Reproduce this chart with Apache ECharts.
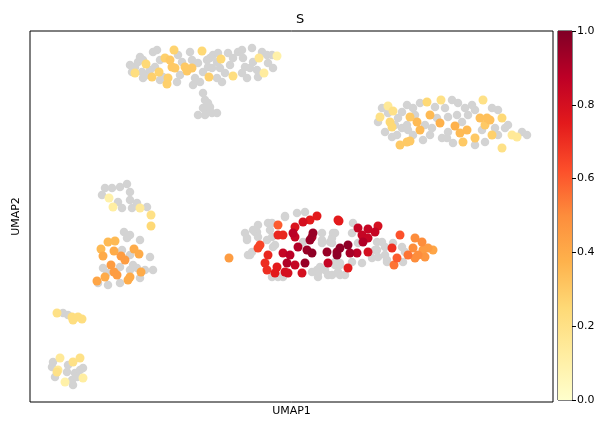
<!DOCTYPE html>
<html><head><meta charset="utf-8">
<script src="https://cdn.jsdelivr.net/npm/echarts@6/dist/echarts.min.js"></script>
<style>html,body{margin:0;padding:0;background:#fff}#c{width:612px;height:430px}</style>
</head><body><div id="c"></div>
<script>
// UMAP embedding coordinates (arbitrary units), grey = cells without score
const grayTop = [[130,65],[135,67],[132,72],[138,62],[140,57],[143,60],[142,72],[147,75],[143,78],[153,52],[157,50],[160,60],[155,67],[150,70],[160,80],[163,77],[178,55],[182,62],[180,75],[177,82],[190,52],[192,60],[195,78],[193,85],[198,63],[203,72],[200,82],[207,60],[208,67],[210,58],[212,68],[213,55],[217,62],[218,53],[220,68],[217,78],[222,82],[225,73],[228,53],[230,65],[233,58],[238,52],[242,50],[243,58],[245,67],[242,73],[247,78],[250,68],[252,48],[253,62],[257,70],[258,77],[262,52],[267,55],[268,63],[273,68],[272,55],[203,93],[205,100],[208,103],[210,107],[207,110],[203,108],[212,113],[217,113],[198,115],[205,115]];
const grayRight = [[382,108],[388,113],[398,118],[402,112],[407,105],[413,108],[420,103],[415,115],[402,128],[408,130],[392,137],[397,135],[413,135],[423,140],[432,128],[435,107],[445,108],[452,100],[458,103],[448,117],[457,115],[465,108],[468,115],[475,110],[472,105],[448,132],[453,143],[447,138],[475,145],[485,142],[492,108],[498,110],[495,128],[505,128],[508,125],[498,135],[522,132],[527,135],[482,130],[442,138],[425,125],[407,125],[385,132],[378,122],[437,118],[462,122],[430,135],[395,125]];
const grayCenter = [[258,225],[268,223],[272,223],[285,216],[285,217],[297,213],[305,212],[255,232],[257,232],[253,230],[247,240],[247,238],[245,233],[252,252],[248,255],[258,237],[250,255],[267,240],[270,230],[272,237],[273,247],[275,245],[303,242],[322,233],[322,240],[330,242],[332,238],[333,233],[322,243],[332,243],[335,262],[335,265],[340,265],[340,263],[338,272],[345,275],[325,270],[320,267],[317,270],[318,273],[318,277],[312,272],[328,275],[332,275],[340,275],[278,277],[283,277],[272,277],[352,262],[362,263],[358,243],[377,250],[377,242],[385,247],[375,250],[378,257],[372,258],[385,255],[387,262],[387,260],[393,243],[382,242],[402,247],[405,252],[403,262],[352,233],[353,223],[335,233]];
const grayLeft = [[105,188],[112,188],[120,187],[127,184],[130,192],[102,195],[118,202],[122,208],[130,200],[132,208],[137,203],[147,207],[124,232],[130,235],[127,238],[140,240],[150,257],[103,268],[107,273],[120,267],[130,270],[137,268],[145,270],[153,270],[140,278],[120,283],[108,285],[98,283],[133,265],[122,250],[130,255]];
const grayBottom = [[63,313],[68,315],[53,362],[52,367],[68,365],[67,372],[75,373],[80,370],[72,380],[73,385],[77,377],[55,377],[83,368]];

// scored cells: [umap1, umap2, S]
const scoreTop = [[174,50,0.27],[202,51,0.25],[221,59,0.25],[165,58,0.28],[170,60,0.3],[146,64,0.25],[172,67,0.3],[175,68,0.3],[185,67,0.3],[192,68,0.3],[187,71,0.3],[135,73,0.22],[159,72,0.27],[152,77,0.28],[168,78,0.28],[167,84,0.28],[209,77,0.28],[233,76,0.22],[259,58,0.17],[277,56,0.1],[264,73,0.13]];
const scoreRight = [[388,106,0.15],[380,117,0.2],[393,111,0.2],[390,122,0.25],[392,127,0.25],[400,145,0.3],[407,142,0.3],[410,141,0.3],[410,117,0.3],[417,122,0.35],[420,130,0.35],[427,102,0.25],[441,100,0.2],[430,115,0.35],[440,123,0.38],[455,126,0.38],[460,133,0.35],[467,130,0.35],[463,142,0.3],[475,138,0.3],[483,100,0.2],[480,118,0.33],[487,118,0.33],[490,120,0.33],[485,125,0.3],[502,118,0.25],[492,135,0.28],[512,135,0.15],[517,137,0.15],[502,148,0.2]];
const scoreCenter = [[229,258,0.45],[317,216,0.75],[310,220,0.75],[303,222,0.8],[295,227,0.78],[278,225,0.6],[278,235,0.72],[283,235,0.72],[295,237,0.85],[293,233,0.88],[312,237,0.9],[313,233,0.95],[310,240,0.95],[260,245,0.65],[258,248,0.65],[298,247,0.9],[307,250,0.95],[312,253,0.97],[283,253,0.85],[290,255,0.88],[268,255,0.72],[265,263,0.7],[287,263,0.9],[295,265,0.85],[305,263,0.95],[327,252,0.95],[328,263,0.85],[337,252,0.95],[277,267,0.75],[267,270,0.7],[275,273,0.75],[285,272,0.8],[302,273,0.8],[288,273,0.8],[338,220,0.75],[339,221,0.75],[358,228,0.85],[368,229,0.85],[378,226,0.8],[375,232,0.85],[362,235,0.85],[368,238,0.85],[363,242,0.9],[348,245,0.97],[340,248,0.97],[337,255,0.97],[350,253,0.92],[357,253,0.88],[368,252,0.8],[348,268,0.75],[400,235,0.62],[392,248,0.7],[397,258,0.6],[394,265,0.55],[415,238,0.5],[422,242,0.5],[413,248,0.5],[408,255,0.55],[418,255,0.5],[428,248,0.45],[433,250,0.42],[423,250,0.45],[425,257,0.47],[415,258,0.5]];
const scoreLeft = [[109,198,0.1],[113,207,0.12],[140,208,0.15],[151,215,0.2],[151,226,0.25],[101,249,0.35],[108,242,0.35],[115,241,0.35],[114,251,0.4],[103,256,0.4],[134,249,0.4],[139,254,0.4],[121,256,0.45],[125,260,0.45],[111,265,0.45],[114,272,0.45],[117,275,0.45],[105,277,0.4],[97,281,0.42],[130,277,0.4],[128,280,0.4],[141,272,0.4]];
const scoreBottom = [[57,313,0.2],[72,317,0.22],[78,317,0.22],[82,319,0.22],[73,320,0.22],[60,358,0.15],[73,362,0.2],[80,358,0.2],[58,370,0.15],[65,382,0.1],[83,378,0.12],[57,372,0.2]];

const cbarTicks = ['0.0','0.2','0.4','0.6','0.8','1.0'];
const ylorrd = ['#ffffcc','#ffeda0','#fed976','#feb24c','#fd8d3c','#fc4e2a','#e31a1c','#bd0026','#800026'];

const grayAll = [].concat(grayTop, grayRight, grayCenter, grayLeft, grayBottom);
const scoreAll = [].concat(scoreTop, scoreRight, scoreCenter, scoreLeft, scoreBottom).slice().sort((a,b)=>a[2]-b[2]);

const chart = echarts.init(document.getElementById('c'), null, {renderer:'canvas'});
const font = 'DejaVu Sans';
chart.setOption({
  animation:false,
  title:{text:'S', left:291, top:8, textStyle:{fontFamily:font, fontSize:13, fontWeight:'normal', color:'#000'}},
  grid:[
    {left:30, right:59, top:31, bottom:28, show:true, borderColor:'#000', borderWidth:1, backgroundColor:'#fff'},
    {left:558, right:40, top:31, bottom:30, show:true, borderColor:'#000', borderWidth:1}
  ],
  xAxis:[
    {gridIndex:0, type:'value', min:30, max:553, axisLine:{show:false}, axisTick:{show:false}, axisLabel:{show:false}, splitLine:{show:false},
      name:'UMAP1', nameLocation:'middle', nameGap:4, nameTextStyle:{fontFamily:font, fontSize:11, color:'#000'}},
    {gridIndex:1, type:'category', data:['c'], show:false}
  ],
  yAxis:[
    {gridIndex:0, type:'value', min:31, max:402, inverse:true, axisLine:{show:false}, axisTick:{show:false}, axisLabel:{show:false}, splitLine:{show:false},
      name:'UMAP2', nameLocation:'middle', nameGap:8, nameRotate:90, nameTextStyle:{fontFamily:font, fontSize:11, color:'#000'}},
    {gridIndex:1, type:'value', min:0, max:1, interval:0.2, position:'right',
      axisLine:{show:false}, axisTick:{show:true, length:4, lineStyle:{color:'#000'}}, splitLine:{show:false},
      axisLabel:{fontFamily:font, fontSize:11, color:'#000', margin:5, formatter:(v)=>cbarTicks[Math.round(v*5)]}}
  ],
  visualMap:{show:false, type:'continuous', min:0, max:1, dimension:2, seriesIndex:1, inRange:{color:ylorrd}},
  series:[
    {type:'scatter', xAxisIndex:0, yAxisIndex:0, data:grayAll, symbolSize:8.5, itemStyle:{color:'#d3d3d3', opacity:1}, silent:true},
    {type:'scatter', xAxisIndex:0, yAxisIndex:0, data:scoreAll, symbolSize:9, itemStyle:{opacity:1}, silent:true},
    {type:'bar', xAxisIndex:1, yAxisIndex:1, data:[1], barWidth:'100%', silent:true,
      itemStyle:{color:new echarts.graphic.LinearGradient(0,1,0,0, ylorrd.map((c,i)=>({offset:i/(ylorrd.length-1), color:c})))}}
  ]
});
</script></body></html>
